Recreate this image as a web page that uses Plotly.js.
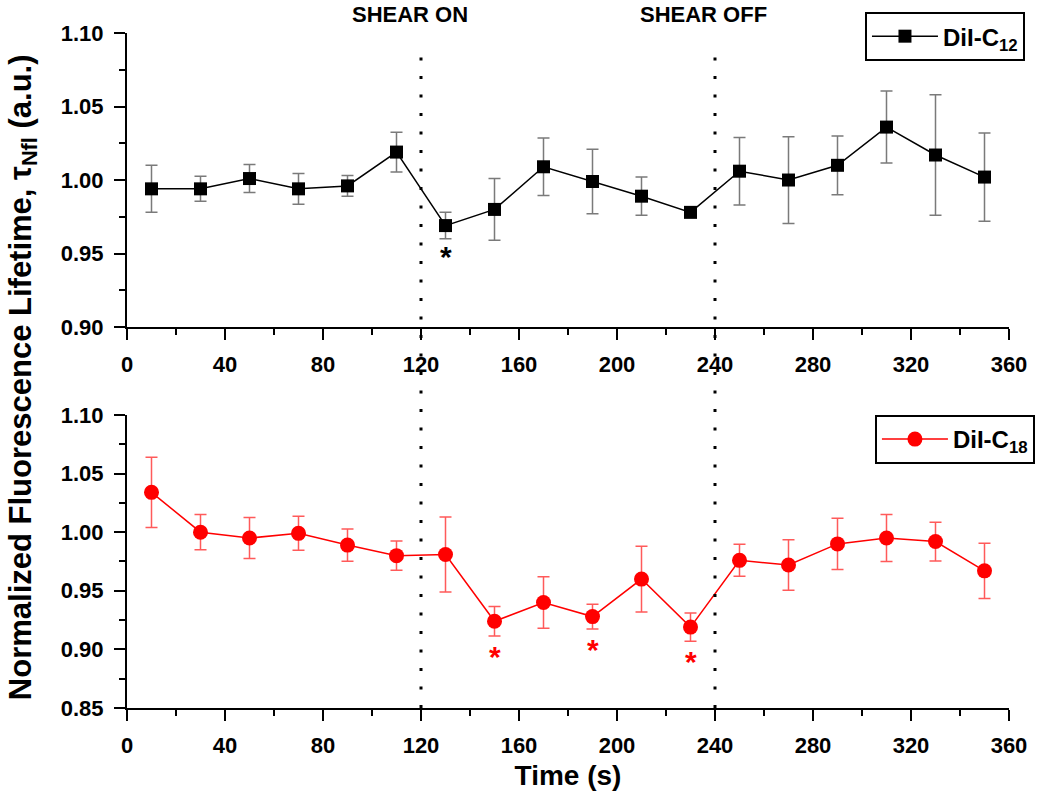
<!DOCTYPE html>
<html>
<head>
<meta charset="utf-8">
<script src="https://cdn.plot.ly/plotly-3.0.1.min.js"></script>
<style>
  html, body { margin: 0; padding: 0; background: #fff; }
  #chart { width: 1050px; height: 799px; }
</style>
</head>
<body>
<div id="chart"></div>
<script>
// ---- data ----
const timeS = [10, 30, 50, 70, 90, 110, 130, 150, 170, 190, 210, 230, 250, 270, 290, 310, 330, 350];

const dilC12 = [0.994, 0.994, 1.001, 0.994, 0.996, 1.019, 0.969, 0.980, 1.009,
                0.999, 0.989, 0.978, 1.006, 1.000, 1.010, 1.036, 1.017, 1.002];
const dilC12Err = [0.016, 0.0085, 0.0095, 0.0105, 0.007, 0.0135, 0.009, 0.021, 0.0195,
                   0.022, 0.013, 0.003, 0.023, 0.0295, 0.020, 0.0245, 0.041, 0.030];

const dilC18 = [1.034, 1.000, 0.995, 0.999, 0.989, 0.980, 0.981, 0.924, 0.940,
                0.928, 0.960, 0.919, 0.976, 0.972, 0.990, 0.995, 0.992, 0.967];
const dilC18Err = [0.030, 0.015, 0.0175, 0.0145, 0.0137, 0.0125, 0.032, 0.0125, 0.022,
                   0.0105, 0.028, 0.012, 0.0137, 0.0216, 0.0218, 0.020, 0.0165, 0.0235];

const seriesNames = ['DiI-C<sub>12</sub>', 'DiI-C<sub>18</sub>'];
const shearTimes = [120, 240];
const shearLabels = ['SHEAR ON', 'SHEAR OFF'];
const sigTimesC12 = [130];
const sigTimesC18 = [150, 190, 230];

const xTicks = [0, 40, 80, 120, 160, 200, 240, 280, 320, 360];

// ---- styling ----
const FONT = 'Liberation Sans, Arial, Helvetica, sans-serif';
const RED = '#ff0000';

const traces = [
  {
    x: timeS, y: dilC12, name: seriesNames[0],
    type: 'scatter', mode: 'lines+markers',
    xaxis: 'x', yaxis: 'y', legend: 'legend',
    line: { color: '#000000', width: 1.5 },
    marker: { symbol: 'square', size: 13, color: '#000000' },
    error_y: { type: 'data', array: dilC12Err, visible: true, color: '#7a7a7a', thickness: 1.5, width: 6 }
  },
  {
    x: timeS, y: dilC18, name: seriesNames[1],
    type: 'scatter', mode: 'lines+markers',
    xaxis: 'x2', yaxis: 'y2', legend: 'legend2',
    line: { color: RED, width: 1.5 },
    marker: { symbol: 'circle', size: 15, color: RED },
    error_y: { type: 'data', array: dilC18Err, visible: true, color: '#ff5a5a', thickness: 1.5, width: 6 }
  }
];

const tickFont = { family: FONT, size: 22, color: '#000', weight: 700 };

function xAxis(anchor, withTitle) {
  const ax = {
    anchor: anchor, range: [0, 360], tickmode: 'array', tickvals: xTicks,
    showline: true, linecolor: '#000', linewidth: 2, mirror: false,
    ticks: 'outside', ticklen: 11, tickwidth: 2, tickcolor: '#000',
    showgrid: false, zeroline: false, tickfont: tickFont, ticklabelstandoff: 6,
    minor: { dtick: 20, tick0: 0, ticks: 'outside', ticklen: 6, tickwidth: 2, tickcolor: '#000', showgrid: false }
  };
  if (withTitle) {
    ax.title = { text: 'Time (s)', font: { family: FONT, size: 28, color: '#000', weight: 700 }, standoff: 8 };
  }
  return ax;
}
function yAxis(anchor, domain, range) {
  return {
    anchor: anchor, domain: domain, range: range, dtick: 0.05, tick0: 0.85, tickformat: '.2f',
    showline: true, linecolor: '#000', linewidth: 2, mirror: false,
    ticks: 'outside', ticklen: 11, tickwidth: 2, tickcolor: '#000',
    showgrid: false, zeroline: false, tickfont: tickFont, ticklabelstandoff: 6,
    minor: { dtick: 0.025, tick0: 0.85, ticks: 'outside', ticklen: 6, tickwidth: 2, tickcolor: '#000', showgrid: false }
  };
}

const annotations = [];
shearTimes.forEach((t, i) => {
  annotations.push({
    text: shearLabels[i], xref: 'x', x: t - 4.5, yref: 'paper', y: 1.0275,
    xanchor: 'center', yanchor: 'middle', showarrow: false,
    font: { family: FONT, size: 22, color: '#000', weight: 700 }
  });
});
sigTimesC12.forEach(t => {
  const k = timeS.indexOf(t);
  annotations.push({
    text: '*', xref: 'x', yref: 'y', x: t, y: dilC12[k] - dilC12Err[k],
    xanchor: 'center', yanchor: 'top', yshift: 1, showarrow: false,
    font: { family: FONT, size: 30, color: '#000', weight: 700 }
  });
});
sigTimesC18.forEach(t => {
  const k = timeS.indexOf(t);
  annotations.push({
    text: '*', xref: 'x2', yref: 'y2', x: t, y: dilC18[k] - dilC18Err[k],
    xanchor: 'center', yanchor: 'top', yshift: -2, showarrow: false,
    font: { family: FONT, size: 30, color: RED, weight: 700 }
  });
});
annotations.push({
  text: 'Normalized Fluorescence Lifetime, τ<sub>Nfl</sub> (a.u.)',
  xref: 'paper', yref: 'paper', x: -0.118, y: 0.49, textangle: -90,
  xanchor: 'center', yanchor: 'middle', showarrow: false,
  font: { family: FONT, size: 31, color: '#000', weight: 700 }
});

const shapes = shearTimes.map(t => ({
  type: 'line', xref: 'x', yref: 'paper', x0: t, x1: t, y0: 0, y1: 0.9644,
  line: { color: '#000', width: 3, dash: '3px,15.5px' }, layer: 'above'
}));

const legendCommon = {
  bgcolor: '#fff', bordercolor: '#000', borderwidth: 2,
  font: { family: FONT, size: 24, color: '#000', weight: 700 },
  itemwidth: 66, xanchor: 'left', yanchor: 'top', tracegroupgap: 0
};

const layout = {
  width: 1050, height: 799,
  margin: { l: 127, r: 41, t: 33, b: 91, pad: 0 },
  paper_bgcolor: '#fff', plot_bgcolor: '#fff',
  showlegend: true,
  xaxis: xAxis('y', false),
  yaxis: yAxis('x', [0.5644, 1], [0.90, 1.10]),
  xaxis2: xAxis('y2', true),
  yaxis2: yAxis('x2', [0, 0.4341], [0.85, 1.10]),
  legend: Object.assign({}, legendCommon, { x: 0.8367, y: 1.031 }),
  legend2: Object.assign({}, legendCommon, { x: 0.848, y: 0.4341 }),
  annotations: annotations,
  shapes: shapes
};

Plotly.newPlot('chart', traces, layout, { displayModeBar: false, staticPlot: true });
</script>
</body>
</html>
